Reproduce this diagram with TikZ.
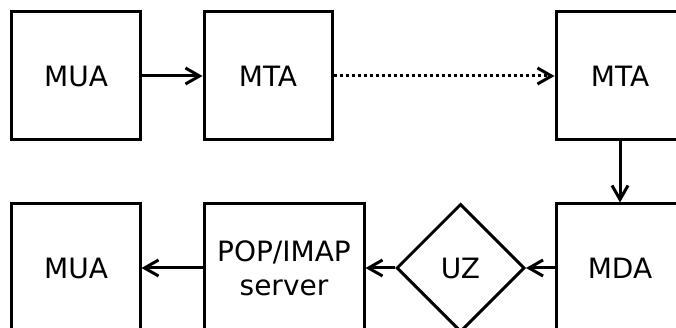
\documentclass[tikz,border=0pt]{standalone}
\usepackage{fontspec}
\setmainfont{DejaVu Sans}
\usepackage{tikz}
\usetikzlibrary{arrows.meta, shapes, positioning}
\tikzset{
    boxnode/.style = {draw, rectangle, line width=3pt, minimum width=128pt, minimum height=128pt, 
      inner sep = 0em, node distance=0em, font=\fontsize{28}{34}\selectfont},
    widenode/.style = {boxnode, minimum width=160pt},
    diamondnode/.style = {draw, diamond, line width=3pt, minimum width=128pt, minimum height=128pt, 
      inner sep = 0em, node distance=0em, font=\fontsize{28}{34}\selectfont},
    connect/.style = {black, line width=3pt, -{Straight Barb[length=14pt, width=16pt]}},
    dotconnect/.style = {connect, dash pattern=on 3pt off 3pt},
    every text node part/.style={align=center}
}

\begin{document}
\begin{tikzpicture}
    \useasboundingbox (-76pt,76pt) rectangle (600pt,-252pt);
    % sending side
    \node[boxnode, name=MUA1] {MUA}; 
    \node[boxnode, name=MTA1, right of = MUA1, xshift=192pt] {MTA}; 
    \node[boxnode, name=MTA2, right of = MTA1, xshift=352pt] {MTA}; 
    % receiving side
    \node[boxnode, name=MDA, below of = MTA2, yshift=-192pt] {MDA}; 
    \node[diamondnode, name=UZ, left of = MDA, xshift=-159.5pt] {UZ}; 
    \node[widenode, name=POP, left of = MDA, xshift=-336pt] {POP/IMAP\\server}; 
    \node[boxnode, name=MUA2, below of = MUA1, yshift=-192pt] {MUA}; 
    \draw (MUA1) edge[connect] (MTA1); 
    \draw (MTA1) edge[dotconnect] (MTA2); 
    \draw (MTA2) edge[connect] (MDA); 
    \draw (MDA) edge[connect] (UZ); 
    \draw (UZ) edge[connect] (POP); 
    \draw (POP) edge[connect] (MUA2); 
\end{tikzpicture}
\end{document}
